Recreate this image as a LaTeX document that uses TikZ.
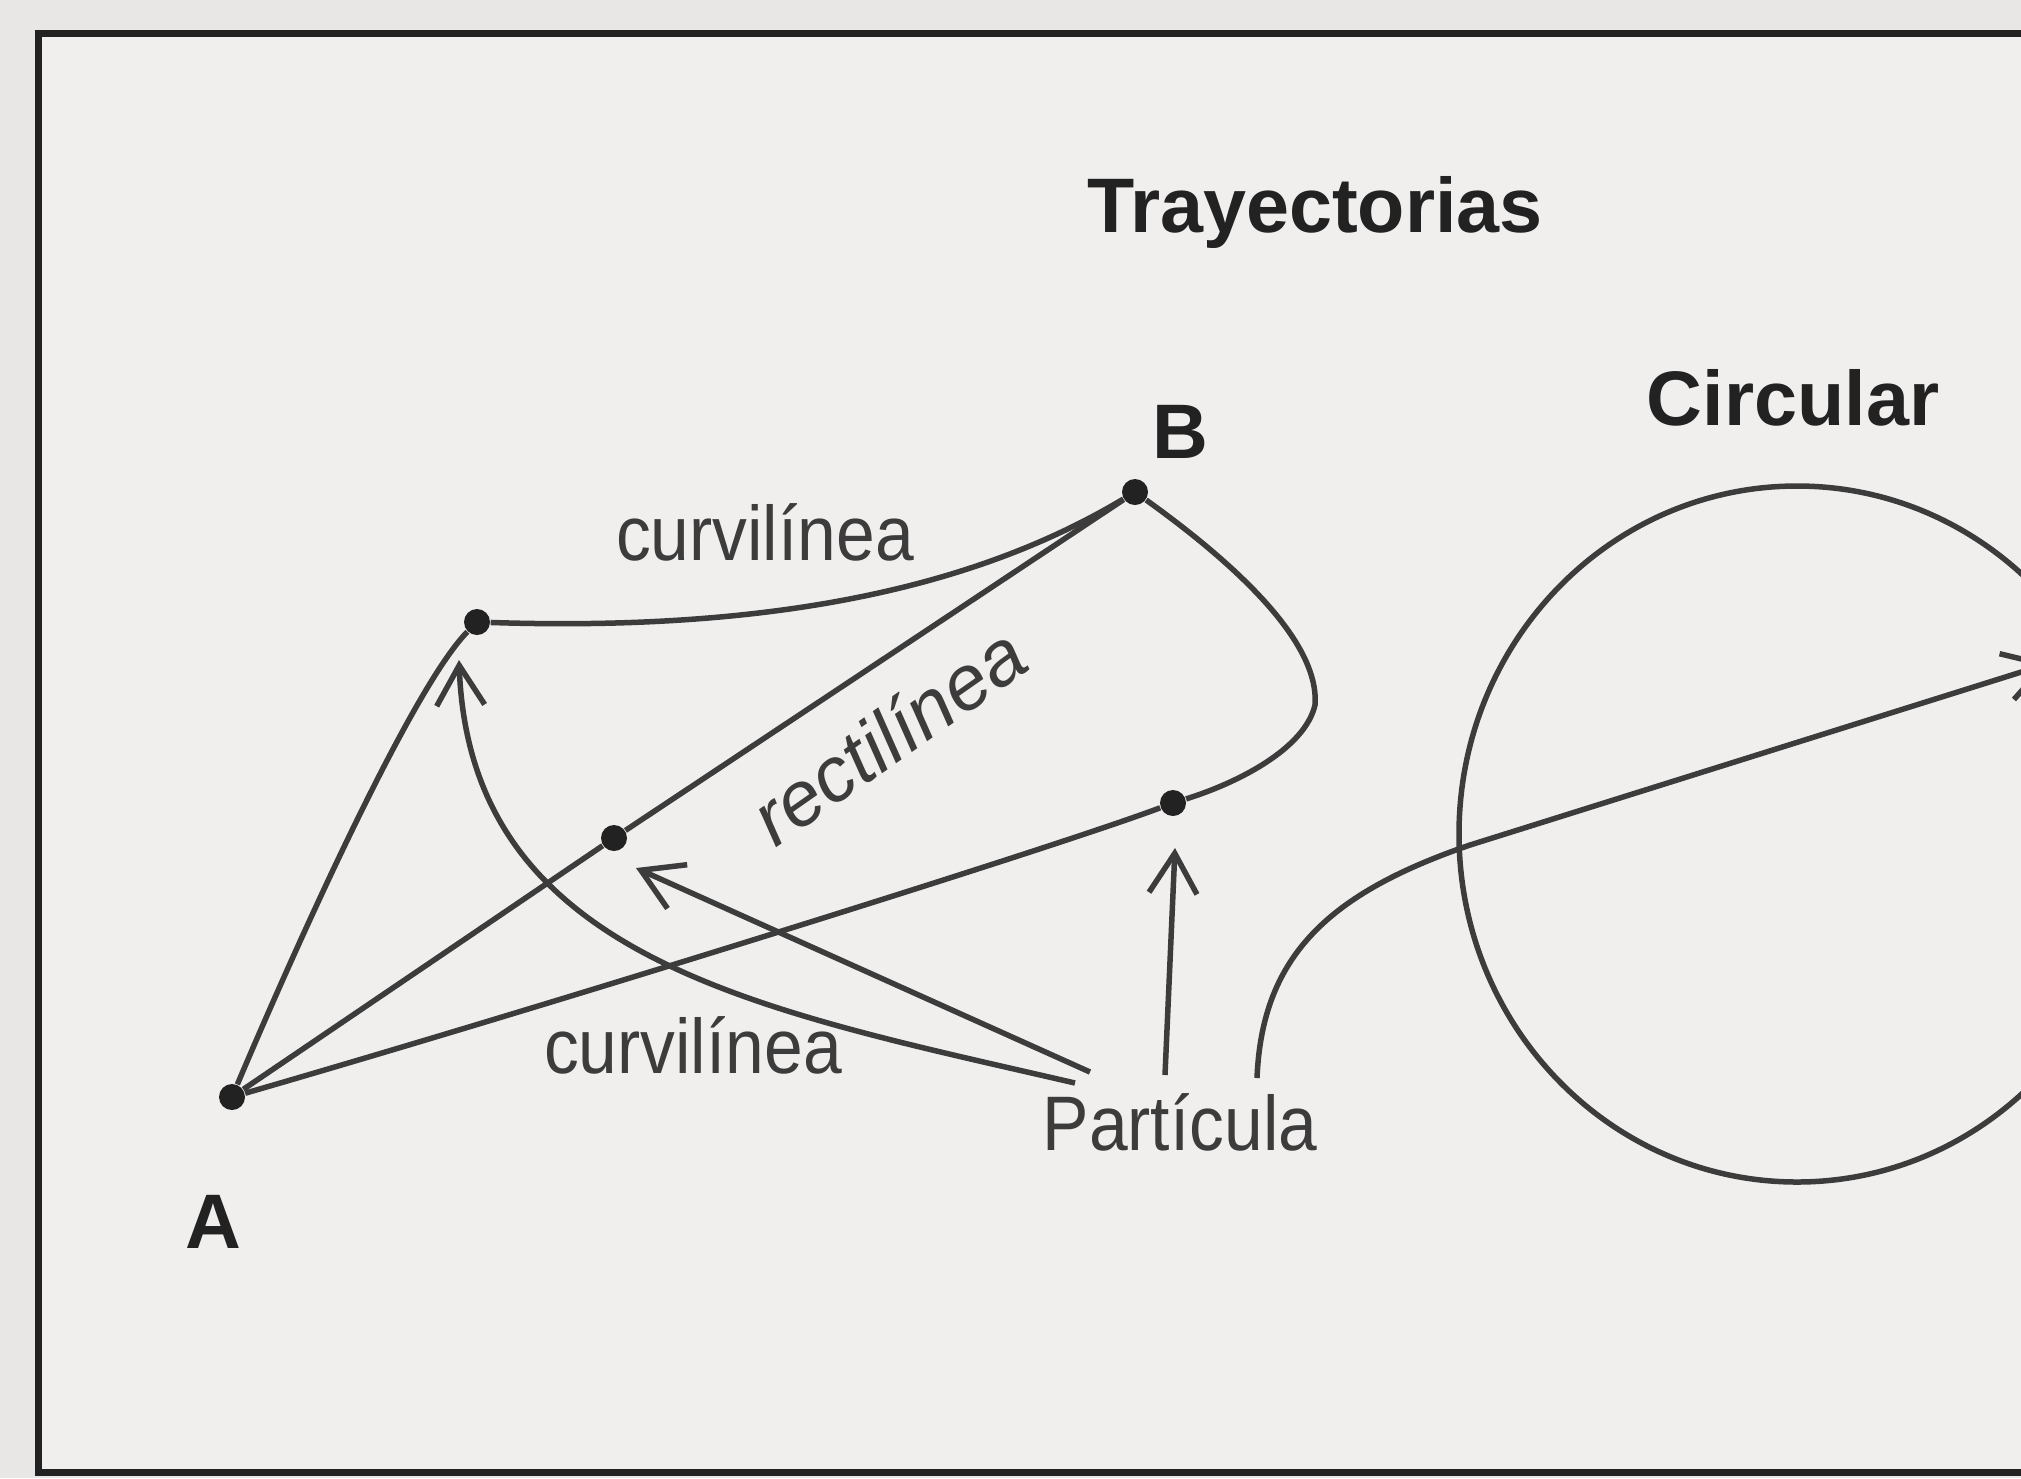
\documentclass[tikz,border=0pt]{standalone}
\usepackage{fontspec}
\setmainfont{Liberation Sans}
\newfontfamily\narrowsans[FakeStretch=0.9]{Liberation Sans}
\usetikzlibrary{arrows.meta}
\definecolor{ink}{HTML}{3C3C3C}
\definecolor{inkdark}{HTML}{222222}
\definecolor{paper}{HTML}{E9E7E5}
\definecolor{sheet}{HTML}{F1EFED}
\tikzset{
  pt/.style={circle,fill=inkdark,inner sep=0pt,minimum size=2.6mm},
  trj/.style={draw=ink,line width=0.55mm},
  arr/.style={trj,-{Straight Barb[length=4mm,width=4.8mm]}}
}

\begin{document}
\begin{tikzpicture}[x=0.1mm,y=-0.1mm,
  lbl/.style={font=\narrowsans\fontsize{22}{26}\selectfont,text=ink,inner sep=0pt,anchor=base},
  ttl/.style={font=\bfseries\fontsize{22}{26}\selectfont,text=inkdark,inner sep=0pt,anchor=base}]
  \useasboundingbox (0,0) rectangle (2021,1478);
  \fill[paper] (0,0) rectangle (2021,1478);
  \clip (0,0) rectangle (2021,1478);
  \draw[draw=inkdark,line width=0.7mm,fill=sheet] (38,33) rectangle (2100,1472);
  % points
  \node[pt] (A)  at (232,1097) {};
  \node[pt] (B)  at (1135,492) {};
  \node[pt] (P1) at (477,622) {};
  \node[pt] (P2) at (614,838) {};
  \node[pt] (P3) at (1173,803) {};
  % labels
  \node[ttl] (tit)  at (1315,232) {Trayectorias};
  \node[ttl] (circ) at (1793,425) {Circular};
  \node[ttl] (labA) at (213,1248) {A};
  \node[ttl] (labB) at (1180,458) {B};
  \node[lbl] (curvUp) at (765,560) {curvilínea};
  \node[lbl] (curvLo) at (693,1073) {curvilínea};
  \node[lbl] (part)   at (1180,1150) {Partícula};
  \node[lbl,font=\itshape\fontsize{22}{26}\selectfont,anchor=center,rotate=35] (rect) at (888,735) {rectilínea};
  % trajectories A -> B
  \draw[trj] (A) -- (P2) -- (B);
  \draw[trj] (A) .. controls (290,960) and (410,690) .. (P1);
  \draw[trj] (P1) .. controls (780,632) and (980,585) .. (B);
  \draw[trj] (B) .. controls (1230,560) and (1320,640) .. (1315,705)
    .. controls (1305,748) and (1240,782) .. (P3);
  \draw[trj] (P3) .. controls (1050,849) and (550,1005) .. (A);
  % circular
  \draw[trj] (1797,834) ellipse [x radius=33.8mm,y radius=34.8mm];
  % arrows from the particle
  \coordinate (pc1) at (1075,1083);
  \coordinate (pc2) at (1090,1072);
  \coordinate (pc3) at (1165,1075);
  \coordinate (pc4) at (1257,1078);
  \coordinate (tip4) at (2050,663);
  \coordinate (tip1) at (459,660);
  \coordinate (tip2) at (636,868);
  \coordinate (tip3) at (1175,848);
  \draw[arr] (pc1) .. controls (760,1010) and (470,960) .. (tip1);
  \draw[arr] (pc2) -- (tip2);
  \draw[arr] (pc3) -- (tip3);
  \draw[arr] (pc4) .. controls (1262,955) and (1330,893) .. (1470,845) -- (tip4);
\end{tikzpicture}
\end{document}
